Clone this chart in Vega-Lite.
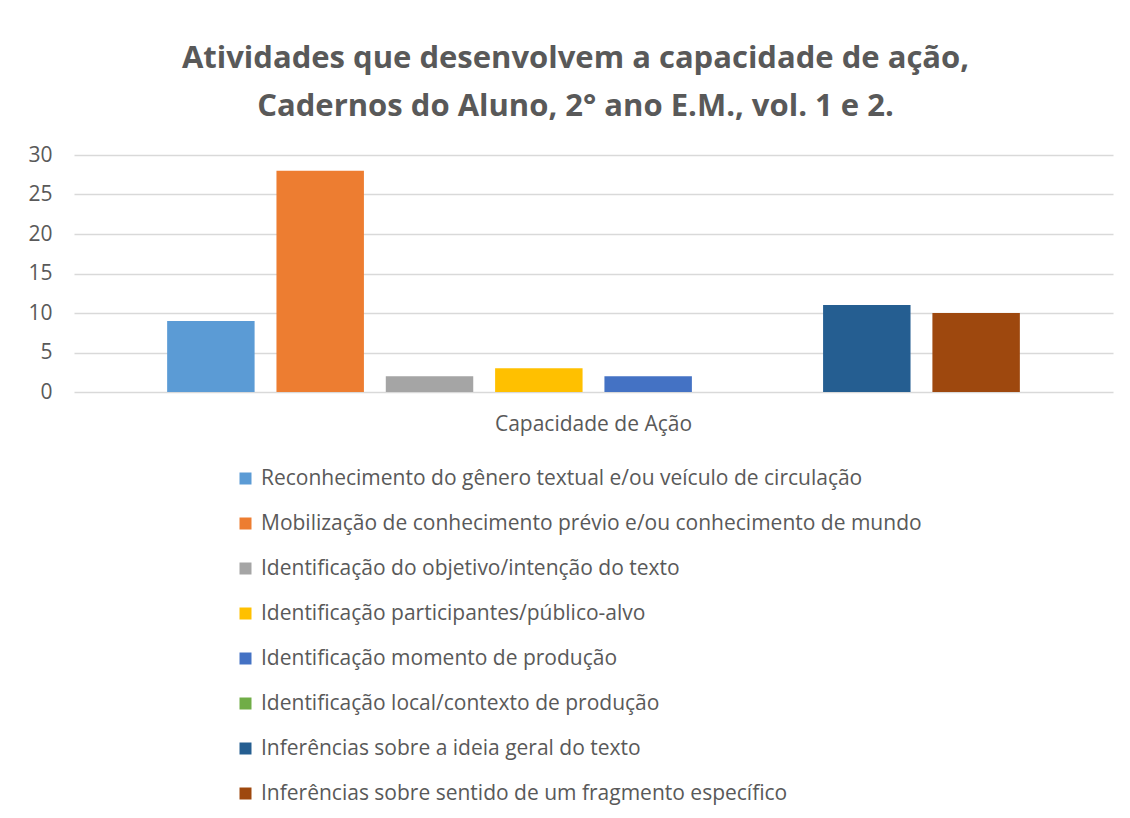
{
  "$schema": "https://vega.github.io/schema/vega-lite/v6.json",
  "autosize": "none",
  "width": 1039,
  "height": 237,
  "padding": {"left": 74, "top": 155, "right": 17, "bottom": 426},
  "background": "white",
  "title": {
    "text": ["Atividades que desenvolvem a capacidade de ação,", "Cadernos do Aluno, 2° ano E.M., vol. 1 e 2."],
    "font": "Open Sans",
    "fontSize": 31,
    "fontWeight": "bold",
    "color": "#595959",
    "anchor": "middle",
    "lineHeight": 48,
    "offset": 21,
    "dx": -18
  },
  "data": {
    "values": [
      {"grupo": "Capacidade de Ação", "serie": "Reconhecimento do gênero textual e/ou veículo de circulação", "valor": 9},
      {"grupo": "Capacidade de Ação", "serie": "Mobilização de conhecimento prévio e/ou conhecimento de mundo", "valor": 28},
      {"grupo": "Capacidade de Ação", "serie": "Identificação do objetivo/intenção do texto", "valor": 2},
      {"grupo": "Capacidade de Ação", "serie": "Identificação participantes/público-alvo", "valor": 3},
      {"grupo": "Capacidade de Ação", "serie": "Identificação momento de produção", "valor": 2},
      {"grupo": "Capacidade de Ação", "serie": "Identificação local/contexto de produção", "valor": 0},
      {"grupo": "Capacidade de Ação", "serie": "Inferências sobre a ideia geral do texto", "valor": 11},
      {"grupo": "Capacidade de Ação", "serie": "Inferências sobre sentido de um fragmento específico", "valor": 10}
    ]
  },
  "mark": {"type": "bar"},
  "encoding": {
    "x": {
      "field": "grupo",
      "type": "nominal",
      "scale": {"paddingInner": 0, "paddingOuter": 0.094},
      "axis": {
        "title": null,
        "labelAngle": 0,
        "labelFont": "Open Sans",
        "labelFontSize": 21,
        "labelColor": "#595959",
        "labelPadding": 21,
        "labelLimit": 500,
        "ticks": false,
        "domain": false
      }
    },
    "xOffset": {
      "field": "serie",
      "type": "nominal",
      "sort": null,
      "scale": {"paddingInner": 0.2, "paddingOuter": 0.1}
    },
    "y": {
      "field": "valor",
      "type": "quantitative",
      "scale": {"domain": [0, 30]},
      "axis": {
        "title": null,
        "values": [0, 5, 10, 15, 20, 25, 30],
        "labelFont": "Open Sans",
        "labelFontSize": 21,
        "labelColor": "#595959",
        "labelPadding": 22,
        "ticks": false,
        "domain": false,
        "gridColor": "#d9d9d9",
        "gridWidth": 1.5
      }
    },
    "color": {
      "field": "serie",
      "type": "nominal",
      "sort": null,
      "scale": {
        "range": ["#5B9BD5", "#ED7D31", "#A5A5A5", "#FFC000", "#4472C4", "#70AD47", "#255E91", "#9E480E"]
      },
      "legend": {
        "title": null,
        "orient": "none",
        "legendX": 161,
        "legendY": 313,
        "direction": "vertical",
        "symbolType": "square",
        "symbolSize": 144,
        "symbolStrokeWidth": 0,
        "labelFont": "Open Sans",
        "labelFontSize": 21,
        "labelColor": "#595959",
        "labelLimit": 900,
        "labelOffset": 5,
        "rowPadding": 23
      }
    }
  },
  "config": {
    "view": {"stroke": null}
  }
}
